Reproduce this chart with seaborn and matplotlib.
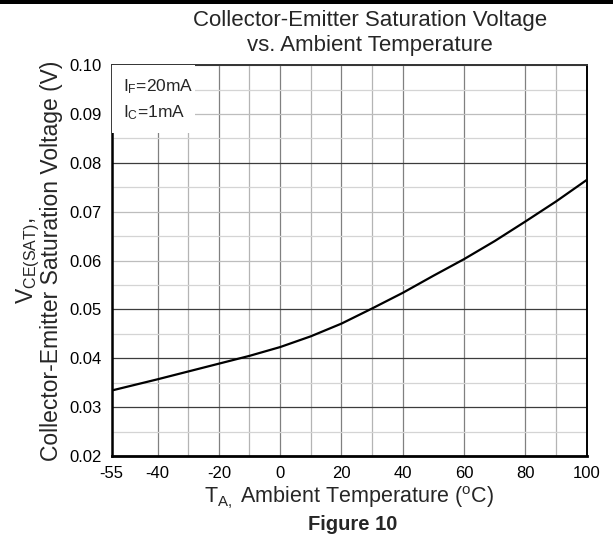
import numpy as np
import pandas as pd
import matplotlib
matplotlib.use("Agg")
import matplotlib.pyplot as plt
import seaborn as sns
from matplotlib.ticker import FixedLocator, FormatStrFormatter
from matplotlib.patches import Rectangle

# ---- data ----
temperature_c = [-55, -40, -30, -20, -10, 0, 10, 20, 30, 40, 50, 60, 70, 80, 90, 100]
vce_sat_v = [0.0334, 0.0357, 0.0373, 0.0389, 0.0405, 0.0423, 0.0445, 0.0471,
             0.0502, 0.0534, 0.0569, 0.0603, 0.0640, 0.0680, 0.0721, 0.0765]
x_major_ticks = [-55, -40, -20, 0, 20, 40, 60, 80, 100]
x_minor_ticks = [-30, -10, 10, 30, 90]
y_major_ticks = [0.02, 0.03, 0.04, 0.05, 0.06, 0.07, 0.08, 0.09, 0.10]
y_minor_ticks = [0.025, 0.035, 0.045, 0.055, 0.065, 0.075, 0.085, 0.095]
y_dark_grid = [0.03, 0.04, 0.05, 0.08]
title_lines = ["Collector-Emitter Saturation Voltage", "vs. Ambient Temperature"]
condition_lines = [r"$\mathregular{I_F}$=20mA", r"$\mathregular{I_C}$=1mA"]

df = pd.DataFrame({"T": temperature_c, "V": vce_sat_v})

sns.set_theme(style="white")
plt.rcParams["font.family"] = ["Liberation Sans", "DejaVu Sans"]
plt.rcParams["mathtext.fontset"] = "custom"
plt.rcParams["mathtext.rm"] = "Liberation Sans"
plt.rcParams["mathtext.it"] = "Liberation Sans:italic"
plt.rcParams["mathtext.bf"] = "Liberation Sans:bold"
plt.rcParams["axes.unicode_minus"] = False

fig = plt.figure(figsize=(6.13, 5.39), dpi=100)
ax = fig.add_axes([0.182, 0.154, 0.775, 0.725])

sns.lineplot(data=df, x="T", y="V", ax=ax, color="black", linewidth=1.6, zorder=5,
             solid_joinstyle="round", solid_capstyle="round")

ax.set_xlim(-55, 100)
ax.set_ylim(0.02, 0.10)
ax.xaxis.set_major_locator(FixedLocator(x_major_ticks))
ax.xaxis.set_minor_locator(FixedLocator(x_minor_ticks))
ax.yaxis.set_major_locator(FixedLocator(y_major_ticks))
ax.yaxis.set_minor_locator(FixedLocator(y_minor_ticks))
ax.yaxis.set_major_formatter(FormatStrFormatter("%.2f"))

ax.grid(True, which="major", axis="x", color="#808080", linewidth=0.9)
ax.grid(True, which="minor", axis="x", color="#b4b4b4", linewidth=0.9)
ax.grid(True, which="major", axis="y", color="#bdbdbd", linewidth=0.9)
ax.grid(True, which="minor", axis="y", color="#d4d4d4", linewidth=0.9)
for tick_val, gl in zip(ax.yaxis.get_majorticklocs(), ax.yaxis.get_gridlines()):
    if any(abs(tick_val - d) < 1e-9 for d in y_dark_grid):
        gl.set_color("#3c3c3c")
ax.set_axisbelow(True)

ax.tick_params(axis="both", which="both", length=0, labelsize=12, colors="black")
ax.tick_params(axis="x", pad=7)
ax.tick_params(axis="y", pad=7)

for side in ["left", "right", "top", "bottom"]:
    ax.spines[side].set_visible(True)
    ax.spines[side].set_color("black")
    ax.spines[side].set_linewidth(1.4)
ax.spines["bottom"].set_linewidth(2.0)
ax.spines["left"].set_linewidth(1.8)
ax.spines["top"].set_color("#333333")

ax.set_xlabel(r"$\mathregular{T_{A,}}$ Ambient Temperature ($\mathregular{^{o}}$C)",
              fontsize=15.5, labelpad=3)
ax.set_ylabel(r"$\mathregular{V_{CE(SAT)},}$" + "\nCollector-Emitter Saturation Voltage (V)",
              fontsize=16.5, labelpad=5, linespacing=0.85)

# white box behind the conditions
ax.add_patch(Rectangle((0, 0.826), 0.175, 0.174, transform=ax.transAxes,
                       facecolor="white", edgecolor="none", zorder=3))
ax.text(0.024, 0.945, condition_lines[0], transform=ax.transAxes, fontsize=12.5,
        va="center", ha="left", zorder=4)
ax.text(0.024, 0.879, condition_lines[1], transform=ax.transAxes, fontsize=12.5,
        va="center", ha="left", zorder=4)

fig.text(0.604, 0.962, title_lines[0], ha="center", va="center", fontsize=16)
fig.text(0.604, 0.916, title_lines[1], ha="center", va="center", fontsize=16)
fig.text(0.576, 0.026, "Figure 10", ha="center", va="center", fontsize=14.5,
         fontweight="bold")

# heavy rule across the very top of the page
fig.patches.append(Rectangle((0, 1 - 3.5 / 539), 1, 3.5 / 539, transform=fig.transFigure,
                             facecolor="black", edgecolor="none"))

fig.savefig("out.png", dpi=100)
